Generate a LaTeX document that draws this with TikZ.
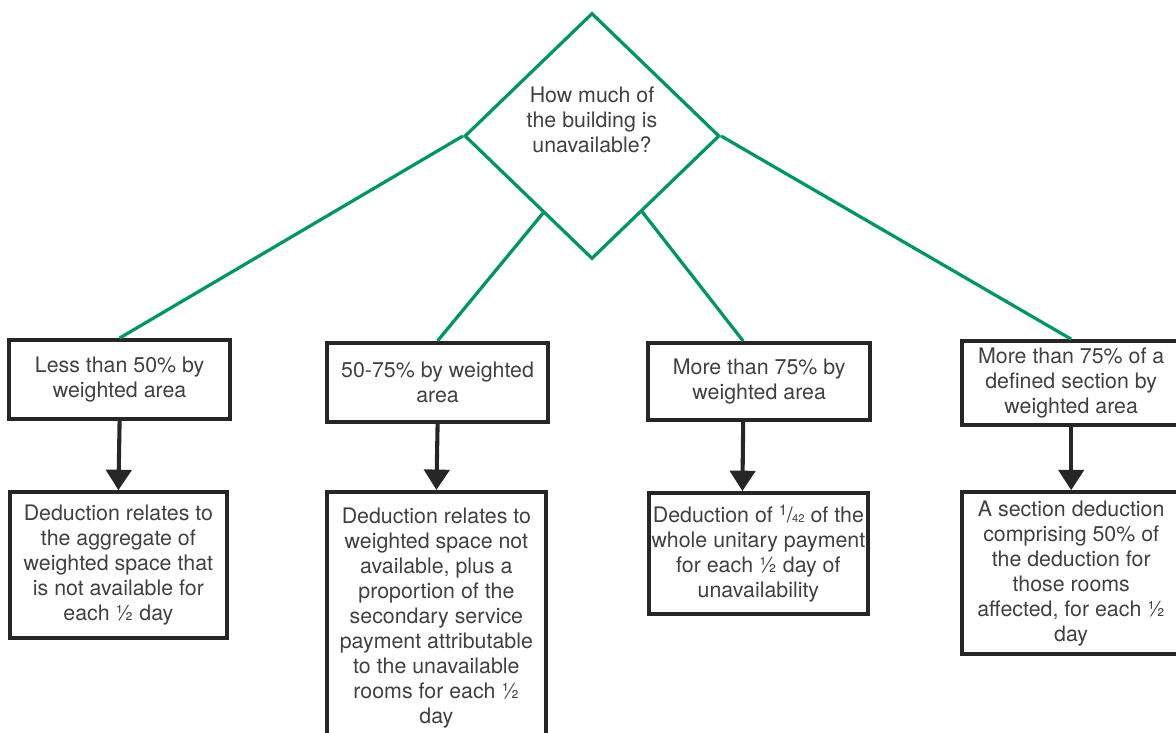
\documentclass[tikz,border=0pt]{standalone}
\usepackage{fontspec}
\setmainfont{TeX Gyre Heros}
\usetikzlibrary{shapes.geometric,arrows.meta,calc}

\definecolor{branchgreen}{RGB}{0,150,100}

\begin{document}
\begin{tikzpicture}[
    decision/.style={draw=branchgreen, line width=2.3pt, diamond, minimum width=6.375cm, minimum height=6.15cm, inner sep=0pt},
    textbox/.style={draw=black!85, line width=2.9pt, rectangle, align=center, text=black!75, font=\fontsize{15.2}{17.8}\selectfont, inner sep=2pt},
    branch/.style={draw=branchgreen, line width=2.3pt},
    flow/.style={draw=black!85, line width=2.9pt, -{Triangle[length=14.5pt,width=18pt]}}
]
    \useasboundingbox (0,0) rectangle (29.4,-18.325);

    % Question
    \node[decision] (question) at (14.8,-3.4) {};
    \node[align=center, text=black!75, font=\fontsize{15.2}{17.8}\selectfont] (qtext) at (14.8,-3.0) {How much of\\the building is\\unavailable?};

    % Conditions
    \node[textbox, minimum width=5.525cm, minimum height=1.975cm] (cond1) at (2.99,-9.49) {Less than 50\% by\\weighted area};
    \node[textbox, minimum width=5.525cm, minimum height=1.975cm] (cond2) at (10.94,-9.56) {50-75\% by weighted\\area};
    \node[textbox, minimum width=5.55cm, minimum height=1.925cm] (cond3) at (18.98,-9.54) {More than 75\% by\\weighted area};
    \node[textbox, minimum width=5.45cm, minimum height=2.1cm] (cond4) at (26.78,-9.58) {More than 75\% of a\\defined section by\\weighted area};

    % Deductions
    \node[textbox, minimum width=5.425cm, minimum height=3.65cm] (res1) at (2.96,-14.13) {Deduction relates to\\the aggregate of\\weighted space that\\is not available for\\each ½ day};
    \node[textbox, minimum width=5.475cm, minimum height=6.3cm] (res2) at (10.91,-15.45) {Deduction relates to\\weighted space not\\available, plus a\\proportion of the\\secondary service\\payment attributable\\to the unavailable\\rooms for each ½\\day};
    \node[textbox, minimum width=5.475cm, minimum height=3.025cm] (res3) at (18.96,-13.84) {Deduction of \textsuperscript{1}\kern-0.05em/\kern-0.03em{\fontsize{8}{8}\selectfont 42} of the\\whole unitary payment\\for each ½ day of\\unavailability};
    \node[textbox, minimum width=5.45cm, minimum height=4.05cm] (res4) at (26.78,-14.33) {A section deduction\\comprising 50\% of\\the deduction for\\those rooms\\affected, for each ½\\day};

    % Branches
    \draw[branch] (question.west) -- (cond1.north);
    \draw[branch] ($(question.west)!0.62!(question.south)$) -- (cond2.north);
    \draw[branch] ($(question.east)!0.61!(question.south)$) -- ($(cond3.north)+(-0.4,0)$);
    \draw[branch] (question.east) -- (cond4.north);

    % Arrows
    \draw[flow] (cond1.south) -- (res1.north);
    \draw[flow] (cond2.south) -- (res2.north);
    \draw[flow] ($(cond3.south)+(-0.4,0)$) -- ($(res3.north)+(-0.4,0)$);
    \draw[flow] (cond4.south) -- (res4.north);
\end{tikzpicture}
\end{document}
